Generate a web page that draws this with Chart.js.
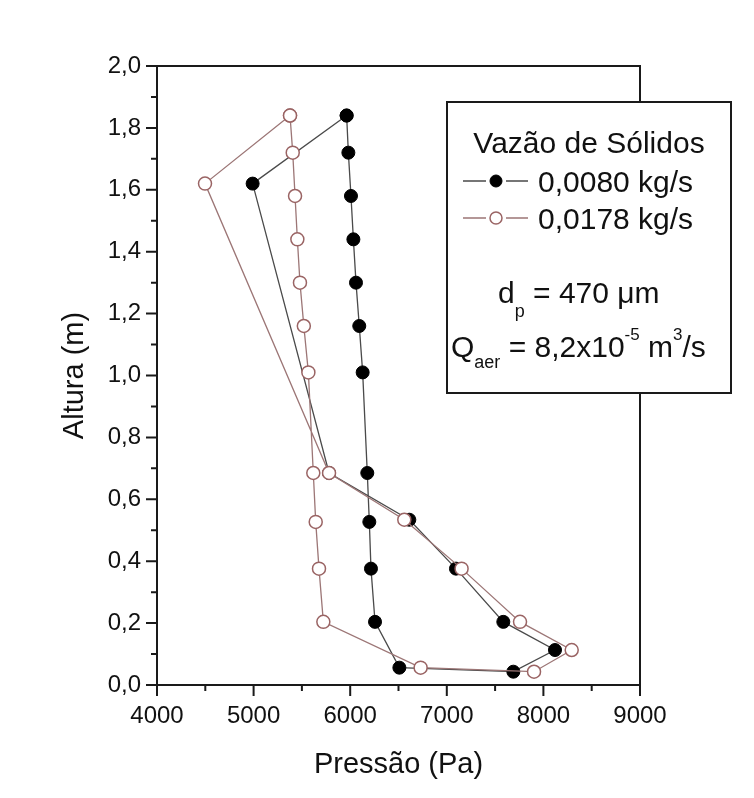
<!DOCTYPE html>
<html>
<head>
<meta charset="utf-8">
<script src="https://cdn.jsdelivr.net/npm/chart.js@4"></script>
<style>
html, body { margin: 0; padding: 0; background: #fff; }
canvas { display: block; }
</style>
</head>
<body>
<canvas id="chart" width="754" height="798"></canvas>
<script>
// Vazão de sólidos 0,0080 kg/s (pontos cheios) - percurso fechado
var pressao1 = [5963, 5981, 6008, 6033, 6060, 6094, 6129, 6177, 6198, 6215, 6257, 6509, 7689, 8120, 7585, 7095, 6612, 5781, 4990, 5963];
var altura1  = [1.84, 1.72, 1.58, 1.44, 1.30, 1.16, 1.01, 0.685, 0.527, 0.376, 0.204, 0.056, 0.043, 0.113, 0.204, 0.376, 0.534, 0.685, 1.62, 1.84];

// Vazão de sólidos 0,0178 kg/s (pontos vazios)
var pressao2 = [5377, 5405, 5429, 5453, 5480, 5520, 5567, 5618, 5643, 5677, 5722, 6729, 7903, 8293, 7758, 7153, 6560, 5781, 4497, 5377];
var altura2  = [1.84, 1.72, 1.58, 1.44, 1.30, 1.16, 1.01, 0.685, 0.527, 0.376, 0.204, 0.056, 0.043, 0.113, 0.204, 0.376, 0.534, 0.685, 1.62, 1.84];

var seriesLabels = ['0,0080 kg/s', '0,0178 kg/s'];
var xTicks = [4000, 5000, 6000, 7000, 8000, 9000];
var yTicks = [0, 0.2, 0.4, 0.6, 0.8, 1.0, 1.2, 1.4, 1.6, 1.8, 2.0];

var FONT = '"Liberation Sans", Arial, Helvetica, sans-serif';
var corLinha1 = '#4a4a4a';
var corLinha2 = '#9c7676';
var corMarca2 = '#9a6464';

function toPoints(xs, ys) {
    return xs.map(function(x, i) { return { x: x, y: ys[i] }; });
}

// moldura + marcas de escala (maiores e menores)
var framePlugin = {
    id: 'frame',
    beforeDatasetsDraw: function(chart) {
        var ctx = chart.ctx, a = chart.chartArea;
        var sx = chart.scales.x, sy = chart.scales.y;
        ctx.save();
        ctx.strokeStyle = '#1a1a1a';
        ctx.lineWidth = 2;
        ctx.strokeRect(a.left, a.top, a.right - a.left, a.bottom - a.top);
        ctx.beginPath();
        xTicks.forEach(function(v, i) {
            var px = sx.getPixelForValue(v);
            ctx.moveTo(px, a.bottom); ctx.lineTo(px, a.bottom + 11);
            if (i < xTicks.length - 1) {
                var pm = sx.getPixelForValue((v + xTicks[i + 1]) / 2);
                ctx.moveTo(pm, a.bottom); ctx.lineTo(pm, a.bottom + 6);
            }
        });
        yTicks.forEach(function(v, i) {
            var py = sy.getPixelForValue(v);
            ctx.moveTo(a.left, py); ctx.lineTo(a.left - 11, py);
            if (i < yTicks.length - 1) {
                var pm = sy.getPixelForValue((v + yTicks[i + 1]) / 2);
                ctx.moveTo(a.left, pm); ctx.lineTo(a.left - 6, pm);
            }
        });
        ctx.stroke();
        ctx.restore();
    }
};

// texto com sub/sobrescritos
function drawRuns(ctx, x, y, runs) {
    runs.forEach(function(r) {
        ctx.font = r.s + 'px ' + FONT;
        ctx.fillText(r.t, x, y + (r.dy || 0));
        x += ctx.measureText(r.t).width;
    });
}

var legendPlugin = {
    id: 'caixaLegenda',
    afterDraw: function(chart) {
        var ctx = chart.ctx;
        var ds = chart.data.datasets;
        ctx.save();
        ctx.fillStyle = '#fff';
        ctx.fillRect(447, 102, 284, 291);
        ctx.strokeStyle = '#1a1a1a';
        ctx.lineWidth = 2;
        ctx.strokeRect(447, 102, 284, 291);

        ctx.fillStyle = '#111';
        ctx.textBaseline = 'alphabetic';
        ctx.textAlign = 'center';
        ctx.font = '30px ' + FONT;
        ctx.fillText('Vazão de Sólidos', 589, 153);

        var rows = [181, 218];
        ds.forEach(function(d, i) {
            var y = rows[i];
            ctx.strokeStyle = d.borderColor;
            ctx.lineWidth = 1.3;
            ctx.beginPath();
            ctx.moveTo(463, y); ctx.lineTo(486, y);
            ctx.moveTo(506, y); ctx.lineTo(528, y);
            ctx.stroke();
            ctx.beginPath();
            ctx.arc(496, y, 6, 0, Math.PI * 2);
            ctx.fillStyle = d.pointBackgroundColor;
            ctx.fill();
            ctx.lineWidth = d.pointBorderWidth;
            ctx.strokeStyle = d.pointBorderColor;
            ctx.stroke();
            ctx.fillStyle = '#111';
            ctx.textAlign = 'left';
            ctx.font = '30px ' + FONT;
            ctx.fillText(d.label, 538, y + 11);
        });

        ctx.textAlign = 'left';
        ctx.fillStyle = '#111';
        drawRuns(ctx, 498, 303, [
            { t: 'd', s: 30 }, { t: 'p', s: 18, dy: 14 }, { t: ' = 470 \u03bcm', s: 30 }
        ]);
        drawRuns(ctx, 451, 357, [
            { t: 'Q', s: 30 }, { t: 'aer', s: 18, dy: 11 }, { t: ' = 8,2x10', s: 30 },
            { t: '-5', s: 17, dy: -17 }, { t: ' m', s: 30 }, { t: '3', s: 17, dy: -17 }, { t: '/s', s: 30 }
        ]);
        ctx.restore();
    }
};

Chart.defaults.font.family = FONT;
Chart.defaults.color = '#111';

var ctx = document.getElementById('chart').getContext('2d');
var chart = new Chart(ctx, {
    type: 'scatter',
    data: {
        datasets: [
            {
                label: seriesLabels[0],
                data: toPoints(pressao1, altura1),
                showLine: true,
                borderColor: corLinha1,
                borderWidth: 1.3,
                pointRadius: 6.5,
                pointBackgroundColor: '#000',
                pointBorderColor: '#000',
                pointBorderWidth: 1,
                order: 2
            },
            {
                label: seriesLabels[1],
                data: toPoints(pressao2, altura2),
                showLine: true,
                borderColor: corLinha2,
                borderWidth: 1.3,
                pointRadius: 6.5,
                pointBackgroundColor: '#fff',
                pointBorderColor: corMarca2,
                pointBorderWidth: 1.5,
                order: 1
            }
        ]
    },
    options: {
        responsive: false,
        animation: false,
        layout: { padding: { left: 40, top: 66, right: 114, bottom: 0 } },
        plugins: {
            legend: { display: false },
            tooltip: { enabled: false }
        },
        scales: {
            x: {
                type: 'linear',
                min: 4000,
                max: 9000,
                afterFit: function(s) { s.height = 113; },
                afterBuildTicks: function(s) { s.ticks = xTicks.map(function(v) { return { value: v }; }); },
                grid: { display: false, drawTicks: false },
                border: { display: false },
                ticks: {
                    padding: 17,
                    maxRotation: 0,
                    autoSkip: false,
                    font: { size: 24 },
                    color: '#111',
                    callback: function(v) { return String(v); }
                },
                title: {
                    display: true,
                    text: 'Pressão (Pa)',
                    font: { size: 29 },
                    color: '#111',
                    padding: { top: 0, bottom: 16 }
                }
            },
            y: {
                type: 'linear',
                min: 0,
                max: 2,
                afterFit: function(s) { s.width = 117; },
                afterBuildTicks: function(s) { s.ticks = yTicks.map(function(v) { return { value: v }; }); },
                grid: { display: false, drawTicks: false },
                border: { display: false },
                ticks: {
                    padding: 16,
                    autoSkip: false,
                    font: { size: 24 },
                    color: '#111',
                    callback: function(v) { return v.toFixed(1).replace('.', ','); }
                },
                title: {
                    display: true,
                    text: 'Altura (m)',
                    font: { size: 29 },
                    color: '#111',
                    padding: { top: 18, bottom: 0 }
                }
            }
        }
    },
    plugins: [framePlugin, legendPlugin]
});
</script>
</body>
</html>
